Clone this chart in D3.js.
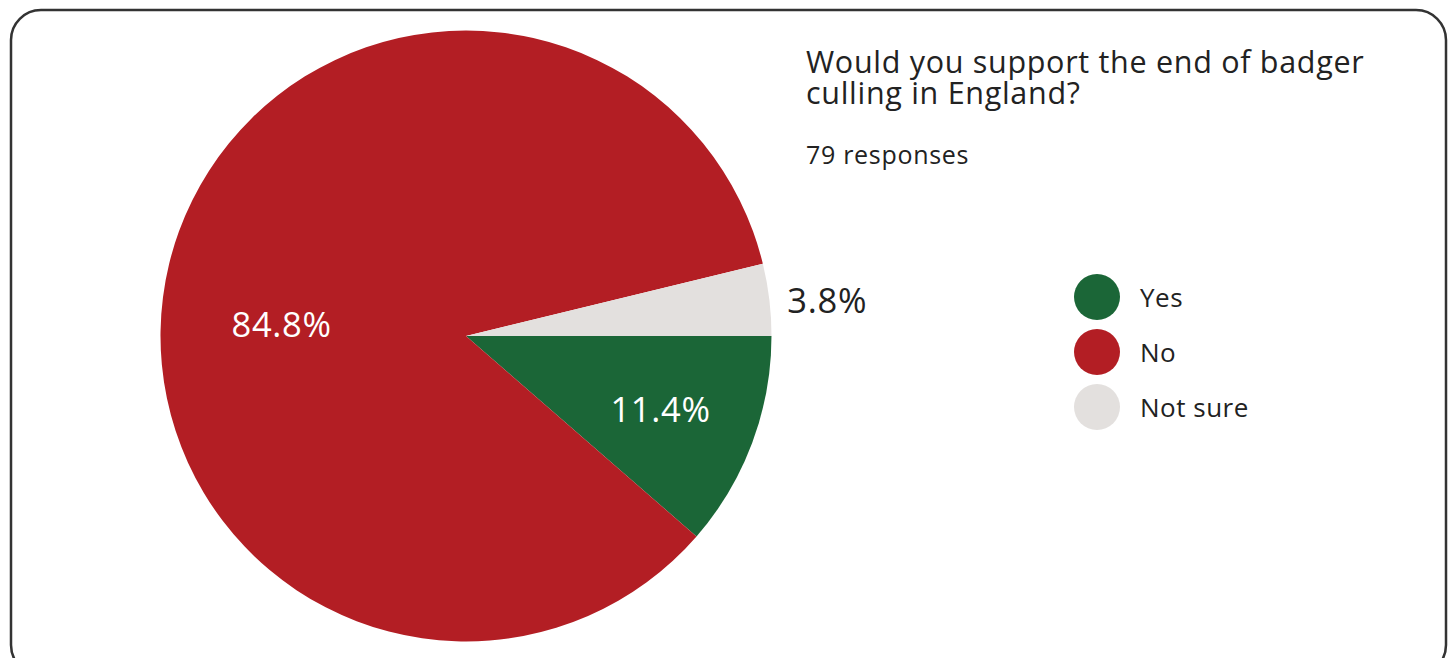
<!DOCTYPE html>
<html><head><meta charset="utf-8">
<script src="https://cdn.jsdelivr.net/npm/d3@7"></script>
<style>
html,body{margin:0;padding:0;background:#fff;overflow:hidden}
text{font-family:"Open Sans","Noto Sans",sans-serif;font-weight:400}
</style></head>
<body>
<svg id="chart" width="1454" height="658"></svg>
<script>
const title = ["Would you support the end of badger", "culling in England?"];
const subtitle = "79 responses";
const categories = ["Yes", "No", "Not sure"];
const counts = [9, 67, 3];
const colors = ["#1b6637", "#b31e24", "#e3e0de"];

const svg = d3.select("#chart");
svg.append("rect").attr("x", 11).attr("y", 10).attr("width", 1435).attr("height", 665)
  .attr("rx", 30).attr("fill", "#fff").attr("stroke", "#333").attr("stroke-width", 2.5);

const cx = 466, cy = 336, R = 305.5;
const total = d3.sum(counts);
const pie = d3.pie().sort(null).value(d => d)
  .startAngle(Math.PI / 2).endAngle(Math.PI / 2 + 2 * Math.PI);
const arcs = pie(counts);
const arc = d3.arc().innerRadius(0).outerRadius(R);
const g = svg.append("g").attr("transform", `translate(${cx},${cy})`);
g.selectAll("path").data(arcs).join("path")
  .attr("d", arc).attr("fill", (d, i) => colors[i]);

const fmt = v => (v / total * 100).toFixed(1) + "%";
arcs.forEach((d, i) => {
  const mid = (d.startAngle + d.endAngle) / 2;
  const frac = (d.endAngle - d.startAngle) / (2 * Math.PI);
  if (frac > 0.05) {
    const r = i === 1 ? 0.605 * R : 0.68 * R;
    const ang = i === 1 ? mid - 0.17 : mid;
    g.append("text").attr("x", Math.sin(ang) * r).attr("y", -Math.cos(ang) * r)
      .attr("text-anchor", "middle").attr("dominant-baseline", "central")
      .attr("fill", "#fff").attr("font-size", 34.5).attr("letter-spacing", 0.7).text(fmt(d.value));
  } else {
    g.append("text").attr("x", Math.sin(mid) * R + 18).attr("y", -Math.cos(mid) * R)
      .attr("text-anchor", "start").attr("dominant-baseline", "central")
      .attr("fill", "#222").attr("font-size", 34.5).attr("letter-spacing", 0.7).text(fmt(d.value));
  }
});

svg.selectAll("text.title").data(title).join("text").attr("class", "title")
  .attr("x", 806).attr("y", (d, i) => 73 + i * 31)
  .attr("font-size", 30.5).attr("letter-spacing", 0.7).attr("fill", "#222").text(d => d);
svg.append("text").attr("x", 806).attr("y", 164).attr("font-size", 25).attr("letter-spacing", 0.7)
  .attr("fill", "#222").text(subtitle);

const lg = svg.append("g");
const ly = d3.scalePoint().domain(categories).range([297, 407]);
lg.selectAll("circle").data(categories).join("circle")
  .attr("cx", 1097).attr("cy", d => ly(d)).attr("r", 23)
  .attr("fill", (d, i) => colors[i]);
lg.selectAll("text").data(categories).join("text")
  .attr("x", 1140).attr("y", d => ly(d)).attr("dominant-baseline", "central")
  .attr("font-size", 26).attr("letter-spacing", 0.5).attr("fill", "#222").text(d => d);
</script>
</body></html>
